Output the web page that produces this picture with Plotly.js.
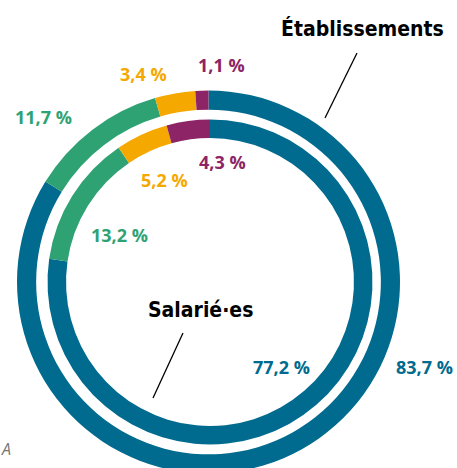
<!DOCTYPE html>
<html>
<head>
<meta charset="utf-8">
<script src="https://cdn.plot.ly/plotly-3.0.1.min.js"></script>
<style>
html, body { margin: 0; padding: 0; overflow: hidden; background: #fff; }
#chart { width: 457px; height: 480px; }
</style>
</head>
<body>
<div id="chart"></div>
<script>
// Data
const categories = ["Associations", "Coopératives", "Mutuelles", "Fondations"];
const etablissements = [83.7, 11.7, 3.4, 1.1];
const salaries = [77.2, 13.2, 5.2, 4.3];
const seriesNames = ["Établissements", "Salarié·es"];
const colors = ["#006B8F", "#2FA273", "#F5A800", "#8C2465"];

const W = 457, H = 480;
const px = (x) => x / W;
const py = (y) => 1 - y / H;
const fmt = (v) => v.toFixed(1).replace('.', ',') + ' %';

function domainFor(cx, cy, r) {
  return { x: [px(cx - r), px(cx + r)], y: [py(cy + r), py(cy - r)] };
}

const common = {
  type: 'pie',
  sort: false,
  direction: 'clockwise',
  rotation: 0,
  textinfo: 'none',
  hoverinfo: 'none',
  showlegend: false
};

const traces = [
  Object.assign({}, common, {
    name: seriesNames[0],
    labels: categories,
    values: etablissements,
    hole: 0.90,
    domain: domainFor(208.5, 282, 191.5),
    marker: { colors: colors, line: { width: 0 } }
  }),
  Object.assign({}, common, {
    name: seriesNames[1],
    labels: categories,
    values: salaries,
    hole: 0.886,
    domain: domainFor(210, 282, 162.5),
    marker: { colors: colors, line: { width: 0 } }
  })
];

// label placement (pixel centres)
const outerPos = [[424, 367], [43, 117], [143, 74], [221, 65]];
const innerPos = [[281, 367], [119, 235], [164, 180], [222, 162]];
const labFont = { family: "'Open Sans', sans-serif", size: 18, weight: 700 };

const annotations = [];
etablissements.forEach((v, i) => {
  annotations.push({ xref: 'paper', yref: 'paper', x: px(outerPos[i][0]), y: py(outerPos[i][1]),
    text: fmt(v), showarrow: false, xanchor: 'center', yanchor: 'middle',
    font: Object.assign({ color: colors[i] }, labFont) });
});
salaries.forEach((v, i) => {
  annotations.push({ xref: 'paper', yref: 'paper', x: px(innerPos[i][0]), y: py(innerPos[i][1]),
    text: fmt(v), showarrow: false, xanchor: 'center', yanchor: 'middle',
    font: Object.assign({ color: colors[i] }, labFont) });
});
const titleFont = { family: "'Liberation Sans Narrow', 'DejaVu Sans Condensed', sans-serif", size: 21, weight: 700, color: '#000' };
annotations.push({ xref: 'paper', yref: 'paper', x: px(362), y: py(28), text: seriesNames[0],
  showarrow: false, xanchor: 'center', yanchor: 'middle', font: titleFont });
annotations.push({ xref: 'paper', yref: 'paper', x: px(200), y: py(310), text: seriesNames[1],
  showarrow: false, xanchor: 'center', yanchor: 'middle', font: titleFont });
annotations.push({ xref: 'paper', yref: 'paper', x: px(0), y: py(449), text: '<i>A</i>',
  showarrow: false, xanchor: 'left', yanchor: 'middle', borderpad: 0,
  font: { family: "'Open Sans', sans-serif", size: 16, color: '#777' } });

const shapes = [
  { type: 'line', xref: 'paper', yref: 'paper', x0: px(357), y0: py(53), x1: px(325), y1: py(118),
    line: { color: '#000', width: 1.3 } },
  { type: 'line', xref: 'paper', yref: 'paper', x0: px(183), y0: py(333), x1: px(153), y1: py(398),
    line: { color: '#000', width: 1.3 } }
];

const layout = {
  width: W, height: H,
  margin: { l: 0, r: 0, t: 0, b: 0 },
  paper_bgcolor: '#fff',
  plot_bgcolor: '#fff',
  annotations: annotations,
  shapes: shapes
};

Plotly.newPlot('chart', traces, layout, { displayModeBar: false, staticPlot: true });
</script>
</body>
</html>
